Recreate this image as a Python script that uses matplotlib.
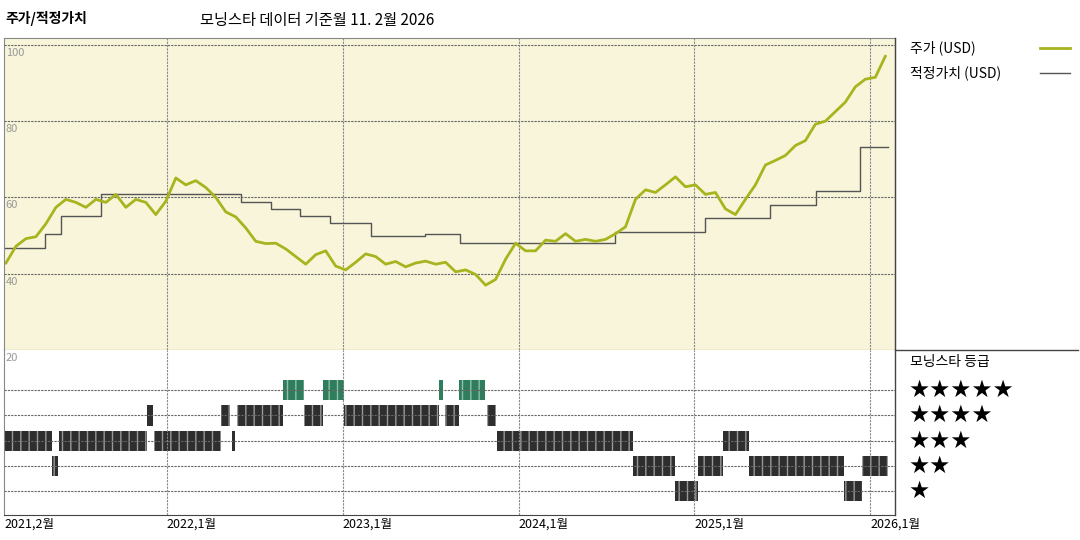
import matplotlib
matplotlib.use('Agg')
import matplotlib.pyplot as plt
import numpy as np

plt.rcParams['font.family'] = ['Noto Sans CJK KR', 'DejaVu Sans']

# price (USD), evenly spaced from early 2021 to Feb 2026
price = [42.8, 47.2, 49.2, 49.7, 53.1, 57.4, 59.5, 58.7, 57.4, 59.5, 58.7, 60.8, 57.4, 59.5, 58.7,
         55.5, 59.0, 65.1, 63.3, 64.4, 62.6, 60.0, 56.2, 54.9, 52.0, 48.5, 47.9, 48.0, 46.5, 44.5,
         42.5, 45.0, 46.0, 42.0, 41.0, 43.0, 45.2, 44.5, 42.5, 43.2, 41.8, 42.8, 43.3, 42.5, 43.0,
         40.5, 41.0, 39.8, 37.0, 38.5, 43.8, 48.0, 46.0, 46.0, 48.8, 48.5, 50.5, 48.5, 49.0, 48.5,
         49.0, 50.5, 52.3, 59.5, 62.0, 61.3, 63.3, 65.4, 62.8, 63.3, 60.8, 61.3, 57.0, 55.5, 59.5,
         63.3, 68.5, 69.7, 71.0, 73.6, 74.9, 79.2, 80.0, 82.5, 85.0, 89.0, 91.0, 91.5, 97.0]
price_start, price_end = 2021.086, 2026.085

# fair value steps (start year, value)
fv_dates = [2021.08, 2021.31, 2021.40, 2021.625, 2022.42, 2022.59, 2022.76, 2022.93, 2023.16,
            2023.47, 2023.67, 2024.55, 2025.06, 2025.43, 2025.69, 2025.94, 2026.10]
fv_vals = [46.7, 50.3, 55.1, 60.8, 58.7, 57.0, 55.1, 53.3, 49.9, 50.5, 48.0, 51.0, 54.6, 58.0,
           61.8, 73.3, 73.3]

# morningstar rating periods
rt_start = [2021.08, 2021.35, 2021.39, 2021.89, 2021.93, 2022.31, 2022.37, 2022.40, 2022.66,
            2022.78, 2022.89, 2023.01, 2023.55, 2023.58, 2023.66, 2023.82, 2023.88, 2024.65,
            2024.89, 2025.02, 2025.16, 2025.31, 2025.85, 2025.95]
rt_end = [2021.35, 2021.38, 2021.89, 2021.92, 2022.31, 2022.36, 2022.39, 2022.66, 2022.78,
          2022.89, 2023.01, 2023.55, 2023.57, 2023.66, 2023.81, 2023.87, 2024.65, 2024.89,
          2025.02, 2025.16, 2025.31, 2025.85, 2025.95, 2026.10]
rt_stars = [3, 2, 3, 4, 3, 4, 3, 4, 5, 4, 5, 4, 5, 4, 5, 4, 3, 2, 1, 2, 3, 2, 1, 2]

tick_years = [2021.08, 2022.0, 2023.0, 2024.0, 2025.0, 2026.0]
tick_labels = ['2021,2월', '2022,1월', '2023,1월', '2024,1월', '2025,1월', '2026,1월']

W, H = 1080, 540
fig = plt.figure(figsize=(10.8, 5.4), dpi=100)
x0, x1 = 4 / W, 895 / W
xlim = (2021.075, 2026.14)

ax = fig.add_axes([x0, 1 - 350 / H, x1 - x0, 312 / H])
ax.set_facecolor('#f8f5da')
ax.set_xlim(*xlim)
ax.set_ylim(20, 101.8)
for yv in [40, 60, 80, 100]:
    ax.axhline(yv, color='#666', ls=(0, (2, 1)), lw=0.8)
    ax.text(2021.085, yv - 0.8, str(yv), color='#999', fontsize=8, va='top', ha='left')
for t in tick_years[1:]:
    ax.axvline(t, color='#888', ls=(0, (2, 1)), lw=0.8)
ax.step(fv_dates, fv_vals, where='post', color='#555', lw=1)
px = np.linspace(price_start, price_end, len(price))
ax.plot(px, price, color='#a8b41e', lw=2)
ax.set_xticks([]); ax.set_yticks([])
for s in ax.spines.values():
    s.set_color('#888'); s.set_linestyle((0, (2, 1)))
ax.spines['bottom'].set_linestyle('-'); ax.spines['bottom'].set_color('#444')

ar = fig.add_axes([x0, 1 - 515 / H, x1 - x0, 165 / H])
ar.set_xlim(*xlim)
ar.set_ylim(0.05, 6.6)
for r in range(1, 6):
    ar.axhline(r, color='#666', ls=(0, (2, 1)), lw=0.8)
for t in tick_years[1:]:
    ar.axvline(t, color='#888', ls=(0, (2, 1)), lw=0.8)
ar.text(2021.085, 6.5, '20', color='#999', fontsize=8, va='top')
for s, e, r in zip(rt_start, rt_end, rt_stars):
    col = '#2f7d5d' if r == 5 else '#2e2e2e'
    ar.broken_barh([(s, e - s)], (r - 0.4, 0.8), facecolor=col,
                   edgecolor='#999' if r < 5 else '#8fc0a8', hatch='||', lw=0)
ar.set_xticks([]); ar.set_yticks([])
for k in ['top', 'right']:
    ar.spines[k].set_visible(False)
ar.spines['left'].set_color('#888'); ar.spines['left'].set_linestyle((0, (2, 1)))
ar.spines['bottom'].set_color('#444')
for t, lab in zip(tick_years, tick_labels):
    ar.text(t, -0.05, lab, transform=ar.transData, ha='left', va='top', fontsize=9)

# right legend panel
fig.add_artist(plt.Line2D([x1, x1], [1 - 38 / H, 1 - 515 / H], color='#444', lw=1))
fig.add_artist(plt.Line2D([x1, 1078 / W], [1 - 350 / H, 1 - 350 / H], color='#444', lw=1))
fig.text(910 / W, 1 - 48 / H, '주가 (USD)', fontsize=10, va='center')
fig.add_artist(plt.Line2D([1040 / W, 1070 / W], [1 - 48 / H] * 2, color='#a8b41e', lw=2))
fig.text(910 / W, 1 - 73 / H, '적정가치 (USD)', fontsize=10, va='center')
fig.add_artist(plt.Line2D([1040 / W, 1070 / W], [1 - 73 / H] * 2, color='#555', lw=1))
fig.text(910 / W, 1 - 362 / H, '모닝스타 등급', fontsize=10, va='center')
for i, n in enumerate([5, 4, 3, 2, 1]):
    fig.text(908 / W, 1 - (390 + 25.3 * i) / H, '★' * n, fontsize=17, va='center',
             family='DejaVu Sans')

fig.text(5 / W, 1 - 18 / H, '주가/적정가치', fontsize=10, fontweight='bold', va='center')
fig.text(200 / W, 1 - 20 / H, '모닝스타 데이터 기준월 11. 2월 2026', fontsize=11, va='center')

fig.savefig('out.png', dpi=100)
